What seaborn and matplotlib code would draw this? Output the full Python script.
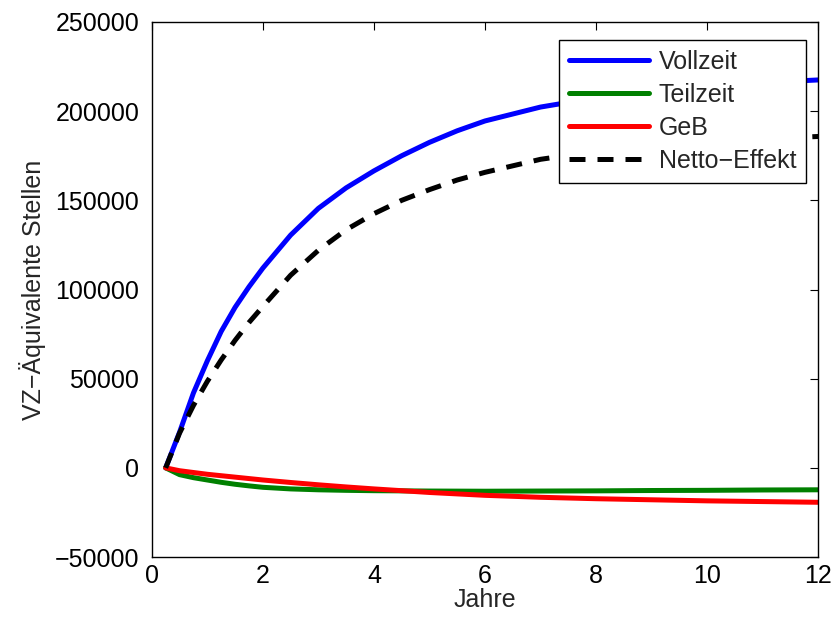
import pandas as pd
import matplotlib
matplotlib.use('Agg')
import matplotlib.pyplot as plt
import seaborn as sns

# Werte
jahre = [0.25, 0.5, 0.75, 1, 1.25, 1.5, 1.75, 2, 2.5, 3, 3.5, 4, 4.5, 5, 5.5,
         6, 7, 8, 9, 10, 11, 12]
vollzeit = [0, 20000, 42000, 60000, 76500, 90000, 101500, 112000, 130500,
            145500, 157000, 166500, 175000, 182500, 189000, 194500, 202300,
            207500, 211500, 214000, 216000, 217500]
teilzeit = [0, -3800, -5500, -6800, -8100, -9200, -10100, -10900, -11800,
            -12300, -12600, -12800, -12900, -13000, -13050, -13100, -13000,
            -12900, -12700, -12600, -12400, -12300]
geb = [0, -1600, -2600, -3600, -4400, -5200, -6000, -6800, -8200, -9500,
       -10700, -11800, -12800, -13800, -14600, -15400, -16500, -17300,
       -17900, -18500, -18900, -19300]
netto = [0, 19500, 35000, 48500, 60500, 71500, 81500, 90500, 108000, 122000,
         133500, 142500, 150000, 156000, 161400, 165700, 173000, 177500,
         180500, 183000, 184500, 185800]

sns.set_style('white')
plt.rcParams['font.family'] = ['Liberation Sans', 'DejaVu Sans']
plt.rcParams['font.size'] = 18

fig = plt.figure(figsize=(8.34, 6.21), dpi=100)
ax = fig.add_axes([0.182, 0.103, 0.799, 0.8616])

serien = [('Vollzeit', vollzeit, 'blue', '-'),
          ('Teilzeit', teilzeit, 'green', '-'),
          ('GeB', geb, 'red', '-'),
          ('Netto\u2212Effekt', netto, 'black', '--')]
for name, werte, farbe, stil in serien:
    sns.lineplot(x=jahre, y=werte, ax=ax, color=farbe, linestyle=stil,
                 linewidth=3.6, label=name)
ax.lines[-1].set_dashes((3.2, 2.4))

ax.set_xlim(0, 12)
ax.set_ylim(-50000, 250000)
ax.set_xticks([0, 2, 4, 6, 8, 10, 12])
ax.set_yticks([-50000, 0, 50000, 100000, 150000, 200000, 250000])
ax.set_yticklabels(['\u221250000', '0', '50000', '100000', '150000', '200000', '250000'])
ax.tick_params(direction='in', length=6, width=0.8, top=True, right=True,
               labelsize=18, colors='black')
ax.tick_params(axis='y', pad=9)
ax.tick_params(axis='x', pad=5)
for s in ax.spines.values():
    s.set_color('black')
    s.set_linewidth(1.0)
ax.set_xlabel('Jahre', fontsize=18, labelpad=0)
ax.set_ylabel('VZ\u2212Äquivalente Stellen', fontsize=18, labelpad=6)

leg = ax.legend(loc='upper right', bbox_to_anchor=(0.982, 0.966), borderaxespad=0,
                fancybox=False, edgecolor='black', framealpha=1, fontsize=18,
                handlelength=3.2, handletextpad=0.4, labelspacing=0.36,
                borderpad=0.4)
leg.get_frame().set_linewidth(1.0)
leg.get_lines()[-1].set_dashes((3.2, 2.4))

fig.savefig('out.png', dpi=100)
